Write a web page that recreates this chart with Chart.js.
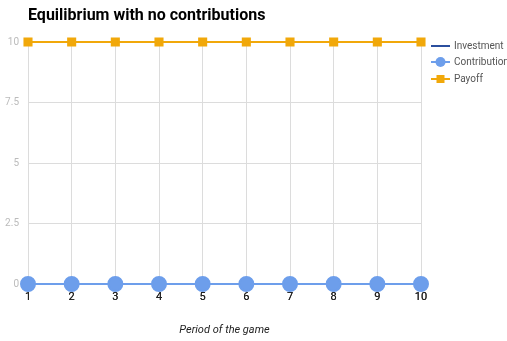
<!DOCTYPE html>
<html><head><meta charset="utf-8">
<script src="https://cdn.jsdelivr.net/npm/chart.js@4"></script>
<style>html,body{margin:0;padding:0;background:#fff;}#wrap{position:relative;width:507px;height:341px;}</style>
</head><body><div id="wrap"><canvas id="c" width="507" height="341"></canvas></div>
<script>
const chartTitle = "Equilibrium with no contributions";
const xAxisTitle = "Period of the game";
const periods = ["1","2","3","4","5","6","7","8","9","10"];
const investment = [0,0,0,0,0,0,0,0,0,0];
const contribution = [0,0,0,0,0,0,0,0,0,0];
const payoff = [10,10,10,10,10,10,10,10,10,10];
const yTicks = [0,2.5,5,7.5,10];
const seriesNames = ["Investment","Contribution","Payoff"];
const seriesColors = ["#2b4f9e","#6d9eeb","#f1a80a"];

const legendPlugin = {
  id: 'customLegend',
  afterDraw(chart) {
    const ctx = chart.ctx;
    ctx.save();
    const x0 = 431, x1 = 450, tx = 454;
    const ys = [46, 62, 79];
    chart.data.datasets.forEach((ds, i) => {
      const y = ys[i];
      ctx.strokeStyle = ds.borderColor;
      ctx.lineWidth = 2;
      ctx.beginPath(); ctx.moveTo(x0, y); ctx.lineTo(x1, y); ctx.stroke();
      ctx.fillStyle = ds.borderColor;
      if (ds.pointStyle === 'circle' && ds.pointRadius > 0) {
        ctx.beginPath(); ctx.arc((x0+x1)/2, y, 5, 0, Math.PI*2); ctx.fill();
      } else if (ds.pointStyle === 'rect' && ds.pointRadius > 0) {
        ctx.fillRect((x0+x1)/2-4, y-4, 8, 8);
      }
      ctx.fillStyle = '#555';
      ctx.font = '10px Roboto';
      ctx.textBaseline = 'middle';
      ctx.textAlign = 'left';
      ctx.fillText(ds.label, tx, y);
    });
    ctx.fillStyle = '#000';
    ctx.font = 'bold 16px Roboto';
    ctx.textBaseline = 'middle';
    ctx.fillText(chartTitle, 28, 16);
    ctx.restore();
  }
};

const tickOnTop = {
  id: 'tickOnTop',
  afterDatasetsDraw(chart) {
    chart.scales.x.drawLabels(chart.chartArea);
  }
};

new Chart(document.getElementById('c'), {
  type: 'line',
  data: {
    labels: periods,
    datasets: [
      {label: seriesNames[0], data: investment, borderColor: seriesColors[0], backgroundColor: seriesColors[0], borderWidth: 2, pointRadius: 0, order: 2, clip: false},
      {label: seriesNames[1], data: contribution, borderColor: seriesColors[1], backgroundColor: seriesColors[1], borderWidth: 2, pointStyle: 'circle', pointRadius: 7, pointHoverRadius: 7, order: 1, clip: false},
      {label: seriesNames[2], data: payoff, borderColor: seriesColors[2], backgroundColor: seriesColors[2], borderWidth: 2, pointStyle: 'rect', pointRadius: 5, pointHoverRadius: 5, order: 3, clip: false}
    ]
  },
  options: {
    responsive: false,
    animation: false,
    layout: {padding: {top: 42, right: 86, left: 0, bottom: 0}},
    plugins: {legend: {display: false}, title: {display: false}, tooltip: {enabled: false}},
    scales: {
      x: {
        offset: false,
        grid: {color: '#dcdcdc', drawTicks: false},
        border: {display: false},
        ticks: {color: '#222', font: {family: 'Roboto', size: 11}, padding: 7, maxRotation: 0},
        title: {display: true, text: xAxisTitle, color: '#222', font: {family: 'Roboto', size: 11, style: 'italic'}, padding: {top: 14}},
        afterFit(s) { s.height = 57; }
      },
      y: {
        min: 0, max: 10,
        afterBuildTicks(s) { s.ticks = yTicks.map(v => ({value: v})); },
        grid: {color: '#dcdcdc', drawTicks: false},
        border: {display: false},
        ticks: {color: '#bbb', font: {family: 'Roboto', size: 10}, padding: 9, callback: v => String(v)},
        afterFit(s) { s.width = 28; }
      }
    }
  },
  plugins: [legendPlugin, tickOnTop]
});
</script></body></html>
